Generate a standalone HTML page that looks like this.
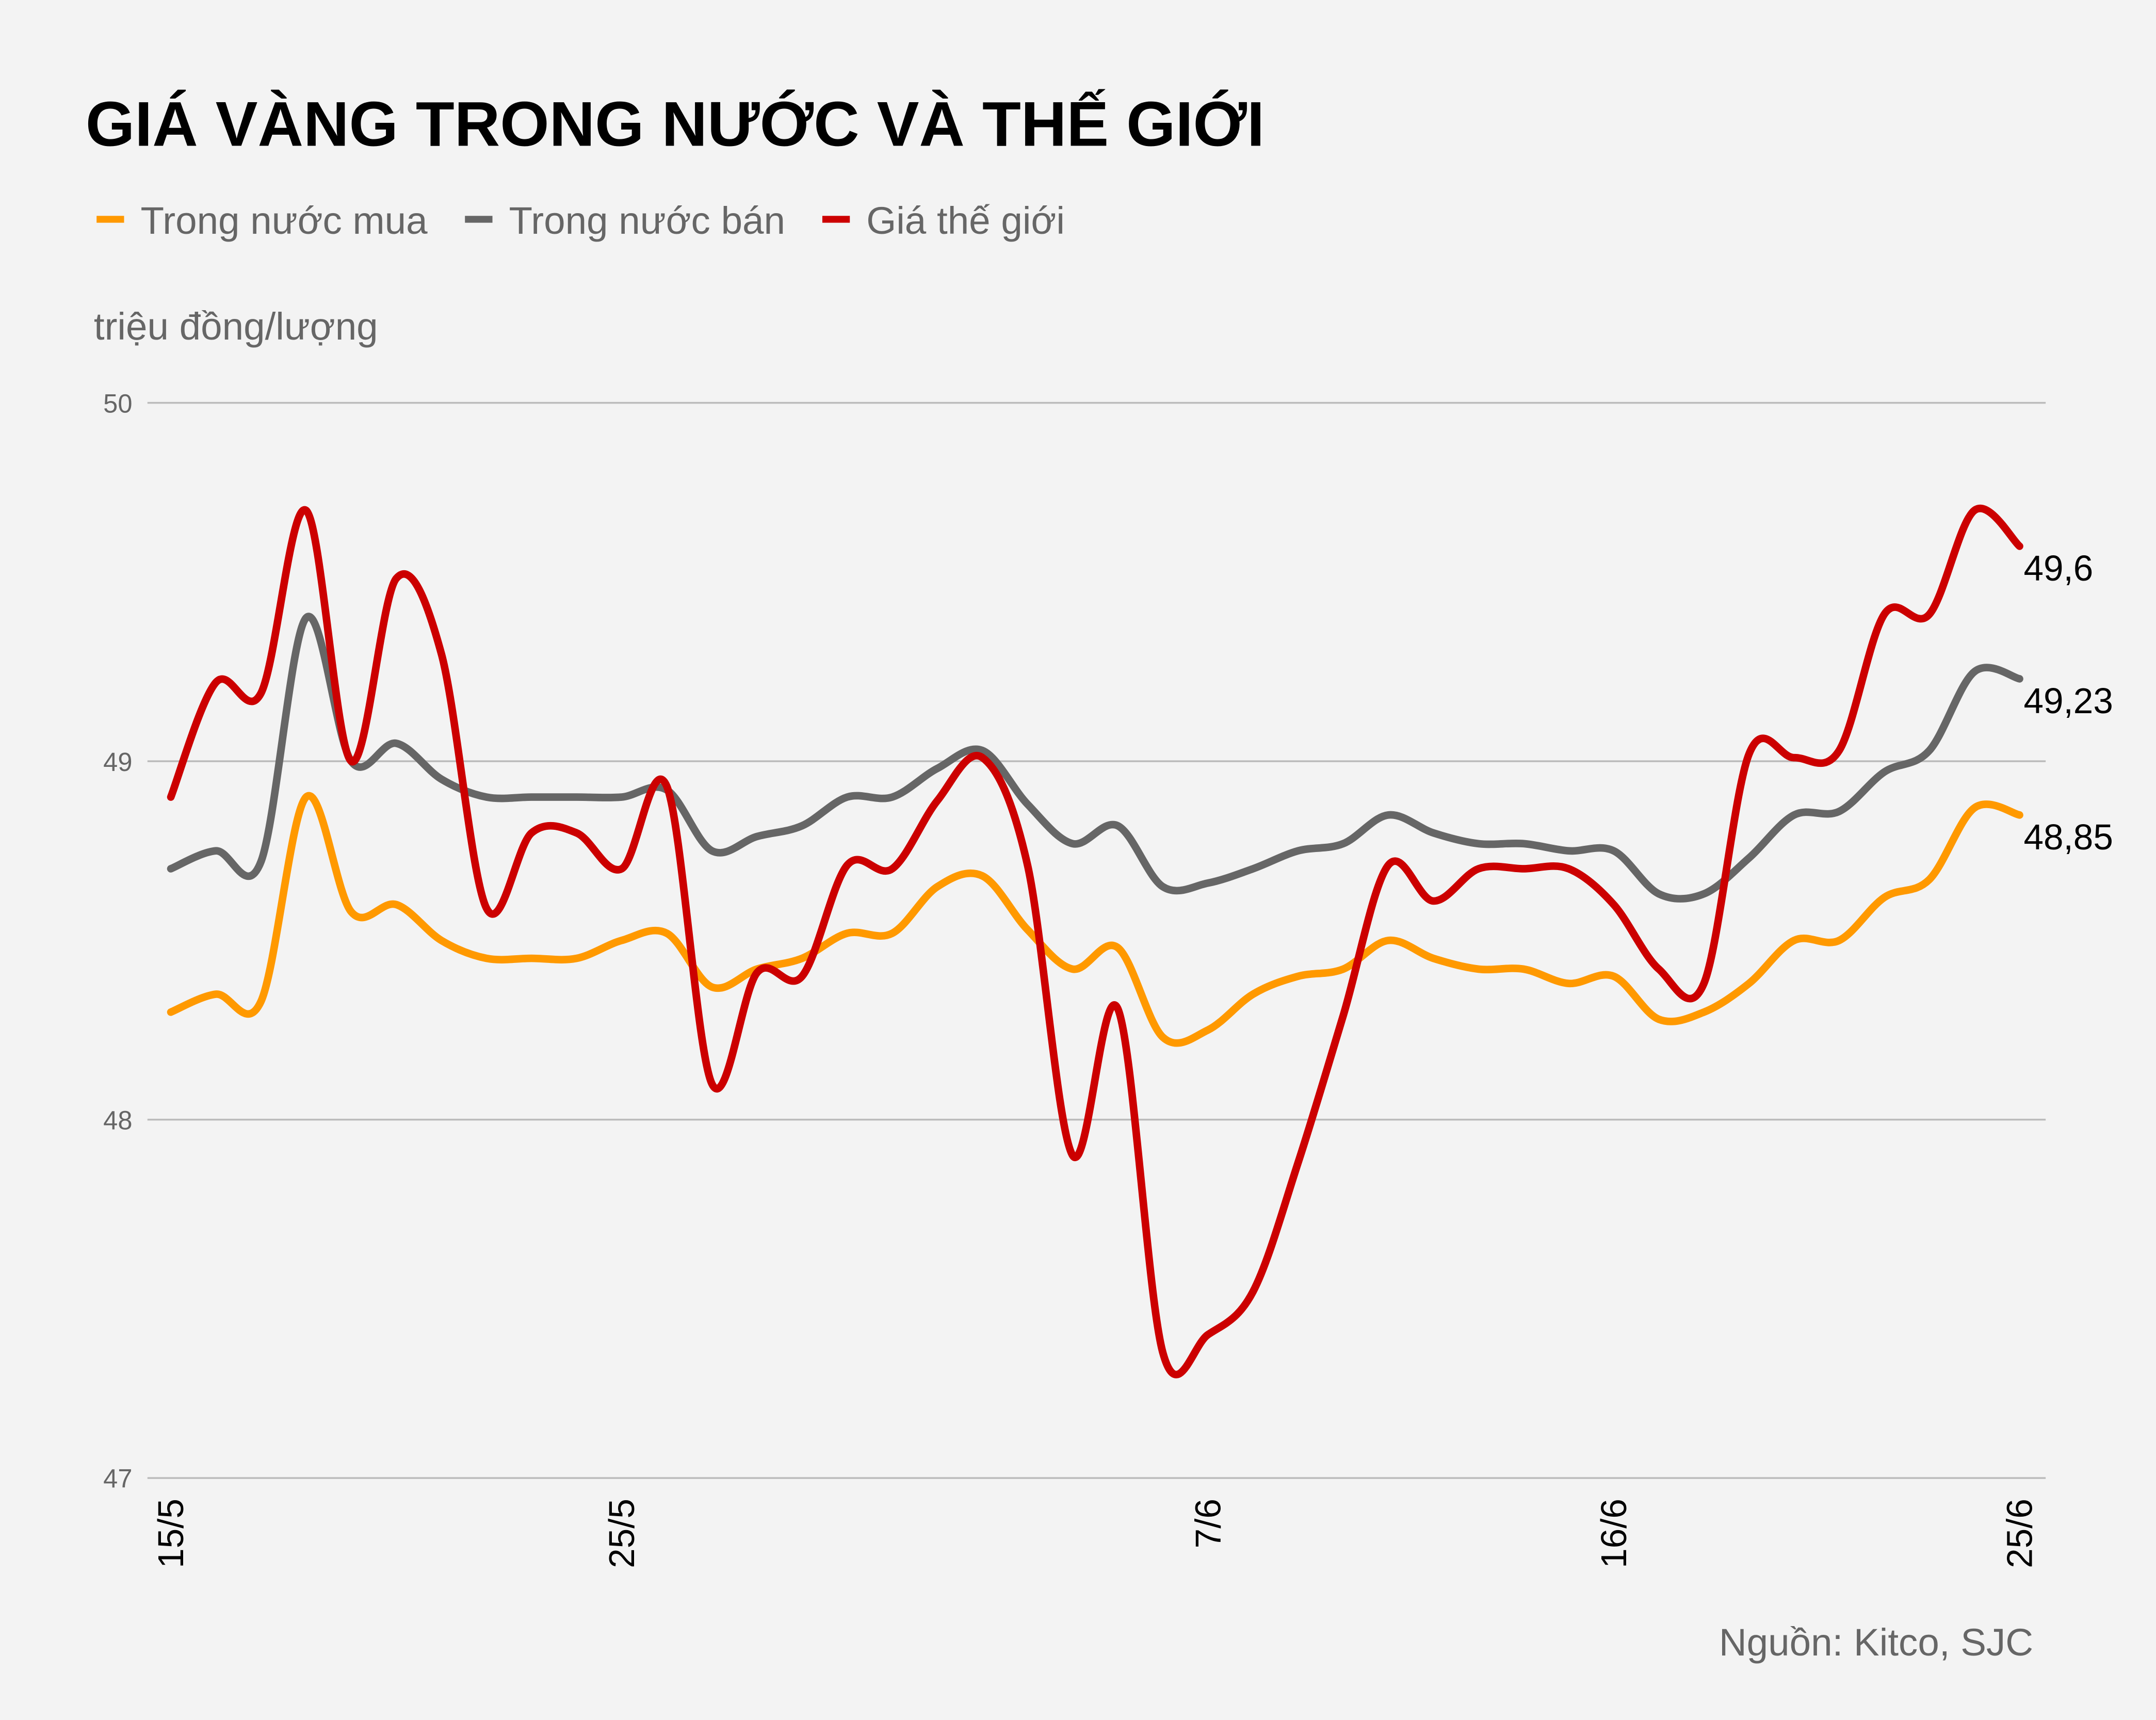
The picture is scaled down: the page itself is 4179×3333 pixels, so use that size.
<!DOCTYPE html>
<html><head><meta charset="utf-8"><style>
html,body{margin:0;padding:0;background:#f3f3f3;}
svg{display:block;font-family:"Liberation Sans",Arial,sans-serif;}
</style></head><body>
<svg id="chart" width="4179" height="3333" viewBox="0 0 1568 1251" xmlns="http://www.w3.org/2000/svg">
<rect x="0" y="0" width="1568" height="1251" fill="#f3f3f3"/>
<text x="62" y="106" font-size="46" font-weight="bold" fill="#000">GIÁ VÀNG TRONG NƯỚC VÀ THẾ GIỚI</text>
<g>
<g><rect x="70" y="157" width="20" height="5" fill="#ff9900"/><text x="102" y="170" font-size="28" fill="#666">Trong nước mua</text></g>
<g><rect x="338" y="157" width="20" height="5" fill="#666666"/><text x="370" y="170" font-size="28" fill="#666">Trong nước bán</text></g>
<g><rect x="598" y="157" width="20" height="5" fill="#cc0000"/><text x="630" y="170" font-size="28" fill="#666">Giá thế giới</text></g>
</g>
<text x="68" y="247" font-size="28" fill="#666">triệu đồng/lượng</text>
<g id="grid"></g>
<g id="series"></g>
<text x="1479" y="1204" font-size="28" fill="#666" text-anchor="end">Nguồn: Kitco, SJC</text>
</svg>
<script>
const categories = ["15/5","16/5","17/5","18/5","19/5","20/5","21/5","22/5","23/5","24/5","25/5","26/5","27/5","28/5","29/5","30/5","31/5","1/6","2/6","3/6","4/6","5/6","6/6","7/6","8/6","9/6","10/6","11/6","12/6","13/6","14/6","15/6","16/6","17/6","18/6","19/6","20/6","21/6","22/6","23/6","24/6","25/6"];
const xTickLabels = ["15/5","25/5","7/6","16/6","25/6"];
const yTicks = [47,48,49,50];
const buyValues = [48.30,48.35,48.33,48.90,48.58,48.60,48.50,48.45,48.45,48.45,48.50,48.52,48.37,48.42,48.45,48.52,48.52,48.65,48.68,48.53,48.42,48.48,48.23,48.25,48.35,48.40,48.42,48.50,48.45,48.42,48.42,48.38,48.40,48.28,48.30,48.38,48.50,48.50,48.62,48.67,48.87,48.85];
const sellValues = [48.70,48.75,48.72,49.40,49.00,49.05,48.95,48.90,48.90,48.90,48.90,48.92,48.75,48.79,48.82,48.90,48.90,48.98,49.03,48.88,48.77,48.82,48.65,48.66,48.70,48.75,48.77,48.85,48.80,48.77,48.77,48.75,48.75,48.63,48.63,48.73,48.85,48.86,48.97,49.03,49.25,49.23];
const worldValues = [48.90,49.22,49.19,49.70,49.00,49.51,49.30,48.59,48.80,48.80,48.70,48.93,48.10,48.41,48.40,48.71,48.70,48.89,49.01,48.71,47.90,48.31,47.35,47.40,47.52,47.88,48.29,48.71,48.61,48.70,48.70,48.70,48.60,48.42,48.38,49.02,49.01,49.03,49.41,49.41,49.70,49.60];
const endLabels = ["48,85","49,23","49,6"];

const NS="http://www.w3.org/2000/svg";
const x0=124,x1=1469,yTop=293,yBot=1075,yMin=47,yMax=50;
const xs=i=>x0+(x1-x0)*i/(categories.length-1);
const ys=v=>yBot-(v-yMin)/(yMax-yMin)*(yBot-yTop);
const grid=document.getElementById('grid');
const ser=document.getElementById('series');
function mk(tag,attrs,parent){const e=document.createElementNS(NS,tag);for(const k in attrs)e.setAttribute(k,attrs[k]);parent.appendChild(e);return e;}
yTicks.forEach(t=>{
  const l=mk('line',{x1:107,x2:1488,y1:ys(t),y2:ys(t),stroke:'#bbbbbb','stroke-width':1.3},grid);
  
  
  const tx=mk('text',{x:96,y:ys(t)+7,'font-size':19,fill:'#666','text-anchor':'end'},grid);
  tx.textContent=t;
  
  
});
xTickLabels.forEach(lb=>{
  const i=categories.indexOf(lb);const x=xs(i)+9,y=1090;
  const tx=mk('text',{x:x,y:y,'font-size':26,fill:'#000','text-anchor':'end',transform:`rotate(-90 ${x} ${y})`},grid);
  tx.textContent=lb;
  
  
});
function path(vals){
  const p=vals.map((v,i)=>[xs(i),ys(v)]);
  let d=`M${p[0][0]},${p[0][1]}`;
  for(let i=0;i<p.length-1;i++){
    const a=p[Math.max(0,i-1)],b=p[i],c=p[i+1],e=p[Math.min(p.length-1,i+2)];
    const c1=[b[0]+(c[0]-a[0])/6,b[1]+(c[1]-a[1])/6],c2=[c[0]-(e[0]-b[0])/6,c[1]-(e[1]-b[1])/6];
    d+=` C${c1[0]},${c1[1]} ${c2[0]},${c2[1]} ${c[0]},${c[1]}`;
  }
  return d;
}
const defs=[[buyValues,'#ff9900','line-trong-nuoc-mua',endLabels[0]],[sellValues,'#666666','line-trong-nuoc-ban',endLabels[1]],[worldValues,'#cc0000','line-gia-the-gioi',endLabels[2]]];
defs.forEach(([vals,col,name,lab])=>{
  const p=mk('path',{d:path(vals),fill:'none',stroke:col,'stroke-width':5.5,'stroke-linejoin':'round','stroke-linecap':'round'},ser);
  
  
  const last=vals[vals.length-1];
  const t=mk('text',{x:xs(vals.length-1)+3,y:ys(last)+25,'font-size':26,fill:'#000'},ser);
  t.textContent=lab;
  
  
});
</script>
</body></html>
